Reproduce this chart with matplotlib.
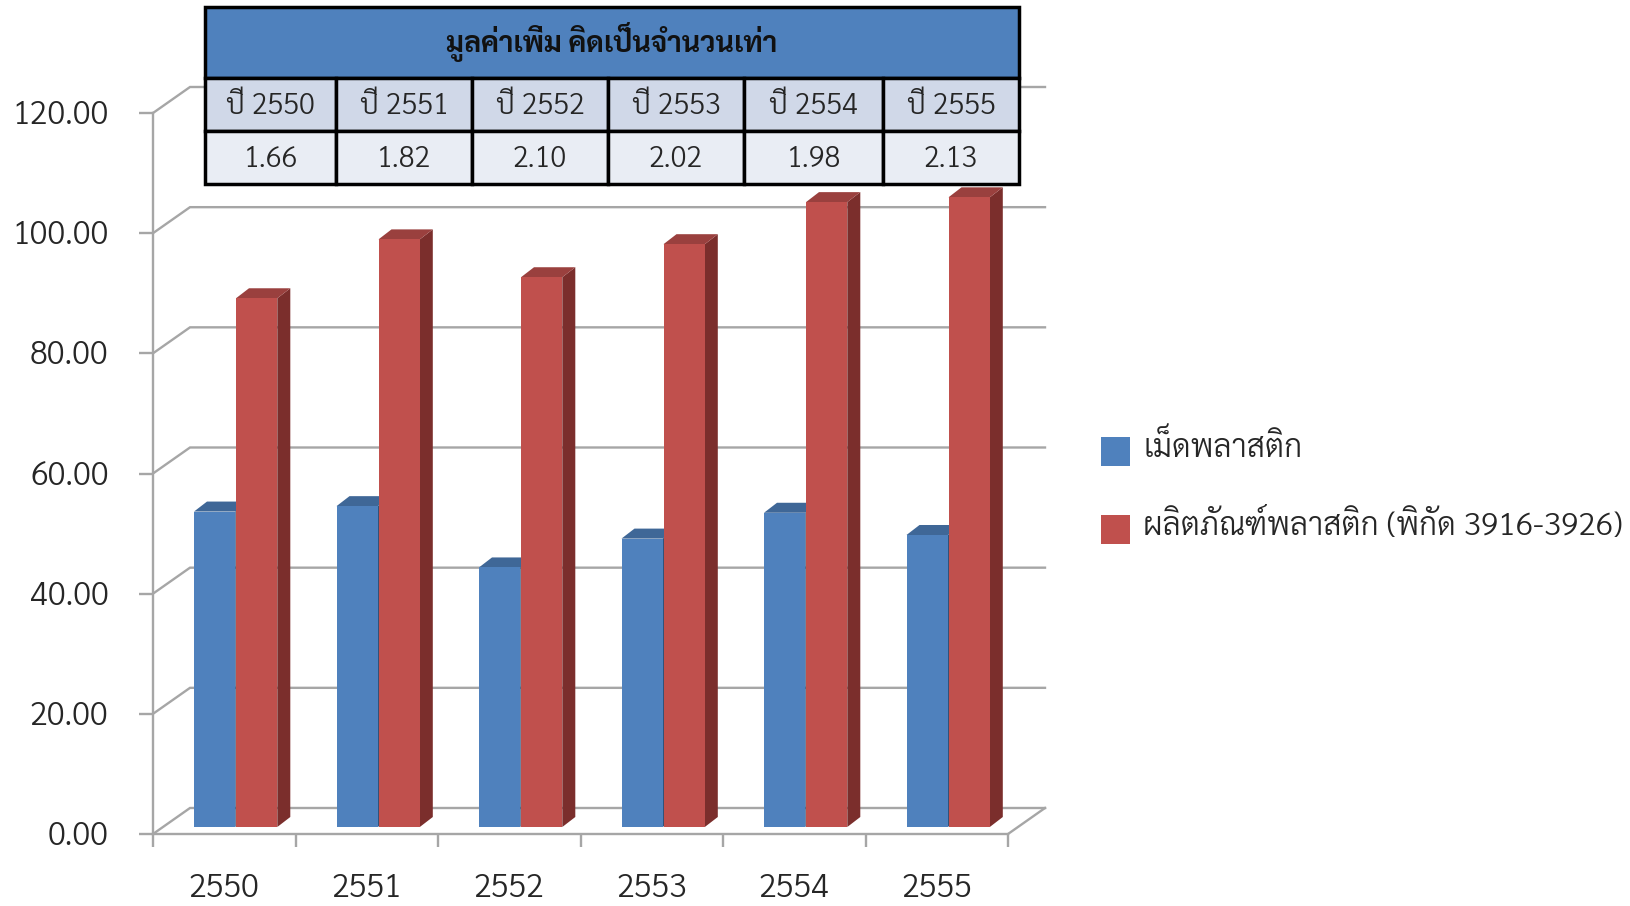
import matplotlib
matplotlib.use('Agg')
import matplotlib.pyplot as plt
from matplotlib.patches import Polygon, Rectangle
from matplotlib.transforms import ScaledTranslation

plt.rcParams['font.family'] = ['Sarabun', 'Noto Sans Thai', 'DejaVu Sans']

years = ['2550', '2551', '2552', '2553', '2554', '2555']
pellets = [52.5, 53.4, 43.2, 48.0, 52.3, 48.6]
products = [88.0, 97.8, 91.5, 97.0, 104.0, 104.8]
ratios = ['1.66', '1.82', '2.10', '2.02', '1.98', '2.13']
y_ticks = [0, 20, 40, 60, 80, 100, 120]
series_names = ['เม็ดพลาสติก', 'ผลิตภัณฑ์พลาสติก (พิกัด 3916-3926)']
table_title = 'มูลค่าเพิ่ม คิดเป็นจำนวนเท่า'

W, H = 1630, 906
TXT = '#262626'
GRID = '#a6a6a6'
fig = plt.figure(figsize=(W / 100, H / 100), dpi=100)
ax = fig.add_axes([153 / W, (H - 834) / H, 855 / W, 721 / H])
ax.set_xlim(0, 6)
ax.set_ylim(0, 120)
ux = 6 / 855      # data units per pixel
uy = 120 / 721

# walls
wall_dx, wall_dy = 37 * ux, 26 * uy
for v in y_ticks:
    ax.plot([0, wall_dx, 6 + wall_dx], [v, v + wall_dy, v + wall_dy], color=GRID, lw=1.7,
            clip_on=False, zorder=1, solid_joinstyle='miter')
ax.plot([6, 6 + wall_dx], [0, wall_dy], color=GRID, lw=1.7, clip_on=False, zorder=1)

# bars
base = 7 * uy
bw = 41.3 * ux
bdx, bdy = 13 * ux, 10 * uy
offs = [41 * ux, 83 * ux]
cols = [('#4f81bd', '#3f6797', '#325279'), ('#c0504d', '#9a403e', '#7b2e2c')]
for i in range(len(years)):
    for off, vals, (face, top, side) in zip(offs, (pellets, products), cols):
        x0 = i + off
        v = vals[i]
        ytop = base + v
        ax.add_patch(Polygon([(x0 + bw, base), (x0 + bw + bdx, base + bdy), (x0 + bw + bdx, ytop + bdy),
                              (x0 + bw, ytop)], fc=side, ec='none', zorder=2, clip_on=False))
        ax.add_patch(Polygon([(x0, ytop), (x0 + bdx, ytop + bdy), (x0 + bw + bdx, ytop + bdy),
                              (x0 + bw, ytop)], fc=top, ec='none', zorder=2, clip_on=False))
        ax.bar(x0, v, bw, bottom=base, align='edge', color=face, zorder=3, clip_on=False)

# axes
for s in ('top', 'right'):
    ax.spines[s].set_visible(False)
for s in ('left', 'bottom'):
    ax.spines[s].set_color(GRID)
    ax.spines[s].set_linewidth(1.7)
    ax.spines[s].set_zorder(1.5)
ax.set_yticks(y_ticks, [f'{v:.2f}' for v in y_ticks], fontsize=23.4, color=TXT, fontweight=300)
ax.tick_params(axis='y', length=10, width=1.7, color=GRID, pad=22)
ax.set_xticks(range(7), [''] * 7)
ax.tick_params(axis='x', which='major', length=9.5, width=1.7, color=GRID)
ax.set_xticks([i + .5 for i in range(6)], years, minor=True, fontsize=23.4, color=TXT, fontweight=300)
ax.tick_params(axis='x', which='minor', length=0, pad=27.5)
for lbl in ax.get_yticklabels():
    lbl.set_transform(lbl.get_transform() + ScaledTranslation(0, 1.5 / 100, fig.dpi_scale_trans))

# overlay in pixel coordinates for the table and legend
ov = fig.add_axes([0, 0, 1, 1], zorder=5)
ov.set_xlim(0, W)
ov.set_ylim(H, 0)
ov.axis('off')
ov.patch.set_alpha(0)

cols_x = [205, 336, 472, 608, 744, 883, 1019]
y0, y1, y2, y3 = 7, 78, 131, 184
LW = 2.5
ov.add_patch(Rectangle((205, y0), 1019 - 205, y1 - y0, fc='#4f81bd', ec='black', lw=LW))
ov.text(612, 42, table_title, ha='center', va='center', fontsize=20.6, fontweight='bold', color='#111111')
for c in range(6):
    ov.add_patch(Rectangle((cols_x[c], y1), cols_x[c + 1] - cols_x[c], y2 - y1, fc='#d0d8e8', ec='black', lw=LW))
    ov.add_patch(Rectangle((cols_x[c], y2), cols_x[c + 1] - cols_x[c], y3 - y2, fc='#e9edf4', ec='black', lw=LW))
    cx = (cols_x[c] + cols_x[c + 1]) / 2
    ov.text(cx, (y1 + y2) / 2 + 2, 'ปี ' + years[c], ha='center', va='center', fontsize=20.8, color=TXT, fontweight=300)
    ov.text(cx, (y2 + y3) / 2 + 2, ratios[c], ha='center', va='center', fontsize=20.8, color=TXT, fontweight=300)

# legend
for name, fc, ty in zip(series_names, ('#4f81bd', '#c0504d'), (451, 529)):
    ov.add_patch(Rectangle((1101, ty - 14), 29, 29, fc=fc, ec='none'))
    ov.text(1143, ty - 3, name, ha='left', va='center', fontsize=22.9, color=TXT, fontweight=300)

fig.savefig('out.png', dpi=100)
